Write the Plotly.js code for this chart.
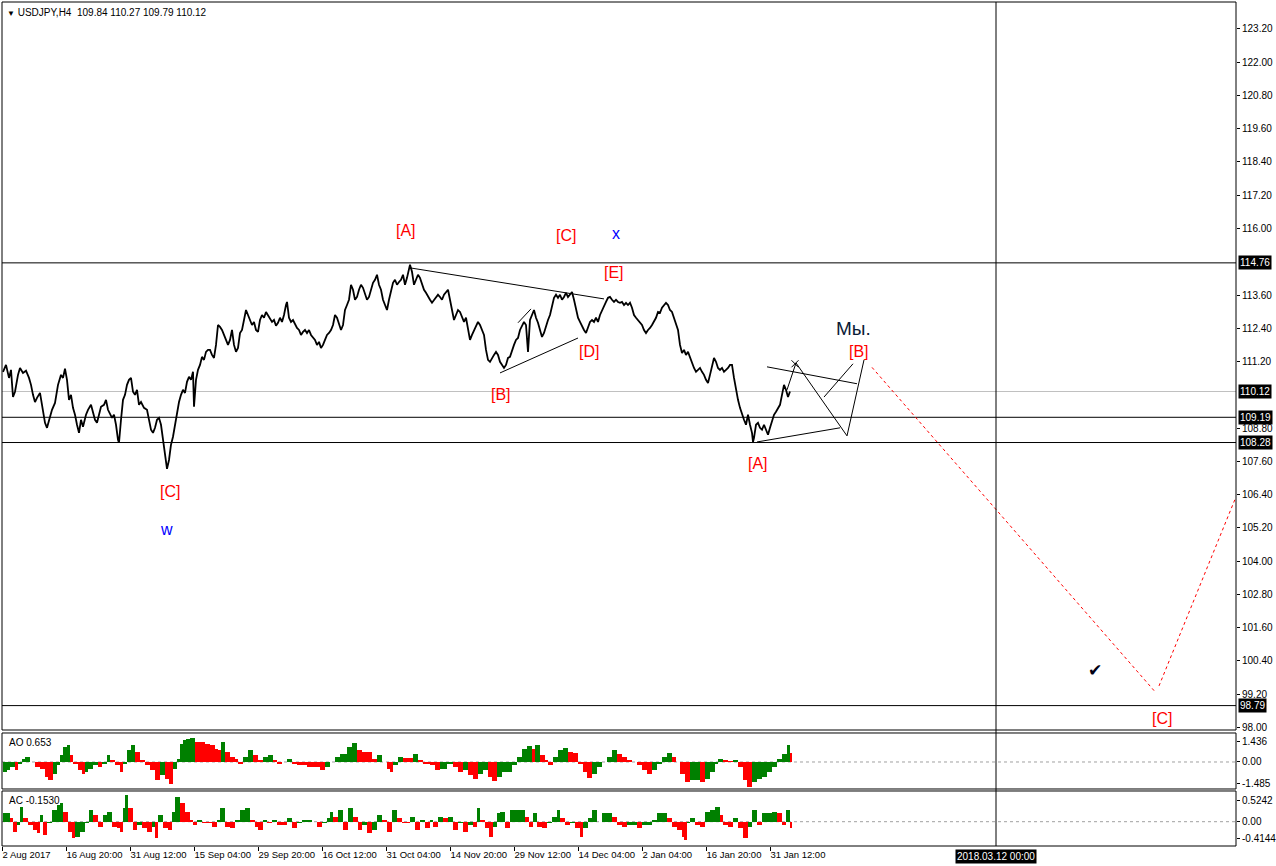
<!DOCTYPE html>
<html><head><meta charset="utf-8">
<script src="https://cdn.plot.ly/plotly-3.0.1.min.js"></script>
<style>html,body{margin:0;padding:0;background:#fff;overflow:hidden}#chart{width:1276px;height:866px}</style>
</head><body><div id="chart"></div>
<script>
// ---------- data ----------
const symbolTitle = "USDJPY,H4\u00a0\u00a0109.84 110.27 109.79 110.12";
// [bar index, close]
const priceSeries = [[3,110.83],[6,111.08],[9,110.61],[11,110.90],[13,109.92],[15,110.11],[18,110.72],[20,110.97],[23,110.79],[26,110.87],[29,110.61],[31,110.36],[33,110.00],[35,109.74],[37,109.89],[40,110.07],[42,109.64],[45,108.99],[47,108.81],[49,109.10],[52,109.46],[55,109.71],[58,110.36],[61,110.72],[63,110.61],[65,110.94],[67,110.54],[69,109.82],[71,110.00],[73,109.53],[75,109.28],[77,108.92],[79,108.63],[81,109.10],[83,108.85],[86,109.28],[88,109.46],[91,109.64],[93,109.39],[95,109.10],[97,108.99],[99,109.28],[101,109.57],[104,109.64],[106,109.82],[108,109.46],[110,109.28],[112,109.17],[114,109.28],[116,108.92],[118,108.38],[119,108.27],[121,109.10],[123,109.82],[125,110.00],[127,110.36],[129,110.54],[131,110.61],[133,110.11],[135,110.00],[137,110.18],[139,109.64],[141,109.74],[144,109.53],[147,109.46],[149,109.10],[151,108.74],[153,108.63],[155,108.81],[157,109.10],[159,109.17],[161,108.92],[163,108.38],[165,107.83],[166,107.40],[167,107.33],[169,107.65],[171,108.20],[173,108.49],[175,108.92],[177,109.46],[179,109.74],[181,110.00],[183,110.18],[185,110.07],[187,110.47],[189,110.65],[191,110.54],[193,110.83],[194,109.57],[196,110.54],[198,110.90],[200,111.08],
[202,111.37],[204,111.26],[206,111.55],[208,111.62],[210,111.62],[212,111.44],[214,111.33],[216,111.80],[218,112.52],[220,112.45],[222,112.34],[224,112.16],[226,111.98],[228,111.80],[230,111.98],[232,112.34],[234,111.80],[236,111.55],[238,111.69],[240,112.23],[242,112.34],[244,112.70],[246,113.06],[248,112.88],[250,112.70],[252,112.52],[254,112.63],[256,112.34],[258,112.27],[260,112.70],[262,112.88],[264,112.78],[266,112.99],[268,112.88],[270,112.78],[272,112.63],[274,112.70],[276,112.49],[278,112.60],[280,112.78],[282,112.63],[284,112.88],[286,113.24],[287,113.35],
[289,112.78],[291,112.63],[293,112.70],[295,112.52],[297,112.41],[299,112.34],[301,112.16],[303,112.27],[305,112.34],[307,112.23],[309,112.34],[311,112.16],[313,112.05],[315,111.98],[317,111.80],[319,111.91],[321,111.69],[323,111.80],[325,111.98],[327,112.16],[329,112.23],[331,112.34],[333,112.52],[335,112.88],[337,112.78],[339,112.52],[341,112.34],[343,112.52],[345,113.06],[347,113.24],[349,113.43],[351,113.97],[353,113.79],[355,113.43],[357,113.53],[359,113.79],[361,113.97],[363,113.86],[365,113.61],[367,113.43],[369,113.53],[371,113.79],[373,114.04],[375,114.15],[377,114.33],[379,113.97],[381,113.79],[383,113.43],[385,113.24],[387,113.06],[389,113.43],[391,113.79],[393,114.04],[395,114.15],[397,113.97],[399,114.07],[401,114.15],[403,114.33],[405,113.97],[407,114.22],[409,114.51],[410,114.69],
[412,114.44],[414,113.97],[416,114.15],[418,114.33],[420,114.22],[422,113.97],[424,113.79],[426,113.68],[428,113.53],[430,113.43],[432,113.32],[434,113.43],[436,113.50],[438,113.61],[440,113.53],[442,113.43],[444,113.61],[446,113.71],[448,113.79],[450,113.43],[452,112.99],[454,112.70],[456,112.88],[458,113.06],[460,112.99],[462,112.78],[464,112.63],[466,112.78],[468,112.34],[470,111.98],[472,112.16],[474,112.34],[476,112.52],[478,112.63],[480,112.52],[482,112.34],[484,112.16],[486,111.62],[488,111.26],[490,111.19],[492,111.33],[494,111.44],[496,111.55],[498,111.44],[500,111.19],[502,111.08],[504,110.97],[506,111.08],[508,111.33],[510,111.37],[512,111.62],[514,111.80],[516,111.98],[518,112.05],[520,112.34],[522,112.52],[524,112.63],[526,112.52],[528,111.55],[530,112.70],[532,112.88],[534,113.06],[536,112.78],[538,112.60],[540,112.34],[542,112.09],[544,112.23],[546,112.52],[548,112.70],[550,112.88],[552,113.24],[554,113.50],[556,113.61],[558,113.50],[560,113.61],[562,113.43],[564,113.53],[566,113.68],[568,113.53],[570,113.61],[572,113.71],[574,113.43],[576,113.06],[578,112.78],[580,112.63],[582,112.45],[584,112.34],[586,112.23],[588,112.41],[590,112.63],[592,112.70],[594,112.63],[596,112.78],[598,112.63],[600,112.88],[602,113.06],[604,113.24],[606,113.35],[608,113.50],[610,113.53],[612,113.43],[614,113.35],[616,113.43],[618,113.35],[620,113.32],[622,113.35],[624,113.24],[626,113.32],[628,113.24],[630,113.32],[632,113.14],[634,112.88],[636,112.78],[638,112.70],[640,112.60],[642,112.52],[644,112.34],[646,112.23],[648,112.34],[650,112.41],[652,112.52],[654,112.63],[656,112.78],[658,112.99],[660,112.96],[662,113.14],[664,113.24],[666,113.32],[668,113.24],[670,113.06],[672,112.99],[674,112.78],[676,112.52],[678,112.34],[680,111.80],[682,111.51],[684,111.62],[686,111.44],[688,111.55],[690,111.33],[692,111.19],[694,110.97],[696,110.83],[698,110.90],[700,110.97],[702,110.83],[704,110.72],[706,110.54],[708,110.43],[710,110.72],[712,111.08],[714,111.33],[716,111.19],[718,110.97],[720,110.90],[722,110.97],[724,110.83],[726,110.90],[728,110.97],[730,111.08],[732,111.08],[734,110.61],[736,110.18],[738,109.82],[740,109.53],[742,109.28],[744,109.10],[746,108.92],[748,109.28],[750,108.92],[752,108.63],[753,108.30],
[754,108.45],[756,108.92],[758,108.99],[760,108.81],[762,108.74],[764,108.92],[766,108.74],[768,108.56],[770,108.81],[772,109.10],[774,109.28],[776,109.39],[778,109.53],[780,109.64],[782,110.00],[784,110.36],[786,110.18],[788,109.92],[790,110.12]];

// [bar index, AO value]
const aoSeries = [[3,-0.68],[7,-0.57],[10,-0.34],[15,-0.57],[18,-0.11],[22,0.23],[25,0.34],[30,0.0],[35,-0.34],[40,-0.45],[45,-1.02],[48,-1.25],[53,-0.80],[57,-0.23],[60,0.45],[63,1.02],[67,1.14],[70,0.45],[73,-0.11],[78,-0.57],[82,-0.80],[85,-0.68],[88,-0.45],[93,-0.23],[98,-0.34],[102,-0.11],[107,0.45],[110,0.11],[115,-0.23],[120,-0.68],[123,-0.11],[127,0.80],[131,1.14],[135,0.68],[140,0.11],[145,-0.23],[150,-0.57],[155,-1.25],[160,-0.91],[165,-1.14],[169,-1.48],[173,-0.45],[177,0.23],[180,1.25],[183,1.48],[186,1.55],[190,1.64],[195,1.36],[200,1.36],[205,1.25],[210,1.14],[215,0.91],[218,0.80],[221,1.36],[225,0.68],[230,0.34],[235,0.23],[238,-0.11],[243,0.34],[248,0.80],[253,0.45],[258,0.11],[263,0.34],[268,0.45],[273,0.11],[277,-0.11],[282,0.0],[287,0.23],[292,-0.11],[297,-0.23],[302,-0.23],[307,-0.34],[313,-0.34],[320,-0.57],[325,-0.34],[330,0.0],[335,0.34],[340,0.57],[347,1.02],[352,1.32],[357,0.80],[362,0.68],[367,0.68],[372,0.23],[377,0.45],[382,0.0],[387,-0.45],[390,-0.68],[393,-0.23],[398,0.34],[403,0.27],[408,0.27],[413,0.57],[418,0.11],[423,-0.11],[430,-0.23],[435,-0.57],[440,-0.45],[447,-0.11],[453,-0.34],[458,-0.68],[463,-0.57],[468,-0.91],[473,-1.14],[478,-0.80],[483,-0.57],[488,-1.02],[492,-1.32],[497,-1.02],[502,-0.68],[507,-0.68],[512,-0.23],[517,0.34],[522,0.91],[527,1.09],[532,0.91],[535,1.18],[540,0.45],[545,0.11],[548,-0.18],[553,0.34],[558,0.80],[563,0.95],[568,0.68],[573,0.64],[578,-0.11],[583,-0.68],[587,-1.09],[592,-0.80],[597,-0.34],[602,0.0],[607,0.34],[612,0.80],[617,0.57],[622,0.34],[627,0.11],[632,0.0],[637,-0.23],[642,-0.57],[647,-0.80],[652,-0.57],[657,-0.11],[662,0.34],[667,0.64],[672,0.34],[676,0.0],[680,-0.80],[685,-1.36],[690,-1.25],[695,-1.25],[700,-1.36],[705,-1.14],[710,-0.68],[715,-0.11],[718,0.23],[723,0.11],[728,0.05],[733,0.11],[738,-0.34],[743,-1.25],[747,-1.70],[752,-1.36],[757,-1.14],[762,-1.02],[767,-0.68],[772,-0.34],[777,0.23],[782,0.57],[787,1.14],[790,0.65]];

// [bar index, AC value]
const acSeries = [[3,0.20],[7,0.20],[10,0.08],[13,-0.24],[17,-0.08],[20,0.37],[23,0.08],[28,-0.08],[33,-0.20],[37,-0.28],[40,0.16],[43,-0.33],[47,-0.04],[52,0.28],[57,0.41],[60,0.45],[63,0.24],[68,-0.24],[72,-0.41],[75,-0.37],[80,-0.24],[85,-0.04],[89,0.28],[93,0.16],[98,-0.12],[103,0.16],[107,0.24],[112,-0.12],[117,-0.16],[120,-0.24],[123,0.33],[125,0.65],[128,0.33],[133,-0.20],[137,-0.08],[142,-0.16],[147,-0.24],[152,-0.12],[155,-0.41],[158,0.16],[163,-0.16],[168,-0.20],[172,0.24],[175,0.61],[180,0.45],[185,0.24],[190,0.04],[193,-0.08],[197,0.04],[202,-0.04],[207,-0.04],[212,-0.12],[217,0.04],[220,0.33],[225,-0.12],[230,-0.16],[235,0.04],[240,0.28],[245,0.33],[250,0.04],[255,-0.12],[258,-0.20],[263,0.04],[267,-0.04],[272,0.04],[277,-0.08],[282,-0.08],[287,0.08],[292,-0.16],[297,-0.04],[302,0.04],[307,0.04],[312,0.0],[317,-0.12],[322,-0.04],[327,0.08],[330,0.24],[333,0.12],[338,0.28],[343,-0.20],[348,0.33],[353,0.12],[358,-0.20],[362,-0.08],[367,-0.28],[372,-0.20],[377,0.16],[382,0.04],[387,-0.24],[392,0.28],[397,0.08],[402,-0.04],[407,-0.04],[410,0.12],[415,-0.20],[420,0.04],[425,-0.16],[430,0.04],[433,-0.12],[438,0.12],[443,0.08],[448,0.12],[453,-0.20],[458,-0.04],[463,-0.24],[468,-0.08],[473,-0.12],[477,0.33],[480,0.04],[485,-0.16],[489,-0.37],[493,-0.12],[497,0.20],[500,0.24],[505,-0.16],[510,0.28],[515,0.28],[520,0.28],[525,0.12],[529,-0.12],[533,0.20],[537,-0.12],[542,-0.16],[547,-0.04],[552,0.12],[557,0.28],[560,0.08],[565,-0.08],[570,-0.04],[575,-0.16],[580,-0.37],[583,-0.16],[588,0.08],[592,0.28],[597,0.0],[602,0.20],[607,0.20],[612,0.12],[617,-0.08],[622,-0.12],[627,-0.08],[632,-0.08],[637,-0.16],[642,-0.08],[647,-0.08],[652,0.04],[657,0.20],[662,0.20],[667,0.08],[672,-0.12],[677,-0.20],[682,-0.37],[684,-0.45],[687,-0.04],[690,0.08],[695,-0.08],[700,-0.12],[705,0.24],[710,0.28],[715,0.37],[720,0.16],[723,-0.08],[728,-0.12],[733,0.08],[738,-0.16],[743,-0.41],[748,-0.12],[752,0.28],[757,-0.08],[762,0.20],[767,0.20],[772,0.24],[777,0.20],[782,-0.08],[786,0.28],[790,-0.15]];

const timeTickBars = [2,66,130,194,258,322,386,450,514,578,642,706,770];
const timeTickLabels = ["2 Aug 2017","16 Aug 20:00","31 Aug 12:00","15 Sep 04:00","29 Sep 20:00","16 Oct 12:00","31 Oct 04:00","14 Nov 20:00","29 Nov 12:00","14 Dec 04:00","2 Jan 04:00","16 Jan 20:00","31 Jan 12:00"];
const futureBar = 996;
const futureLabel = "2018.03.12 00:00";

const priceTicks = [123.2,122.0,120.8,119.6,118.4,117.2,116.0,113.6,112.4,111.2,108.8,107.6,106.4,105.2,104.0,102.8,101.6,100.4,99.2,98.0];
const levelLines = [114.76,109.19,108.28,98.79];
const bidPrice = 110.12;

const aoLabel = "AO 0.653";
const aoTicks = [1.436,0,-1.485];
const aoTickText = ["1.436","0.00","-1.485"];
const acLabel = "AC -0.1530";
const acTicks = [0.5242,0,-0.4144];
const acTickText = ["0.5242","0.00","-0.4144"];

// wave count drawings (bar, price)
const waveLines = [
  [[410,114.58],[604,113.46]],
  [[500,110.79],[578,112.05]],
  [[518,112.60],[531,113.10]],
  [[767,111.01],[857,110.40]],
  [[757,108.30],[840,108.81]],
  [[787,110.18],[796,111.15],[847,108.52],[864,111.26]],
  [[824,109.92],[853,111.12]]
];
const projectionLines = [
  [[872,110.99],[1156,99.25]],
  [[1159,99.50],[1236,106.32]]
];
const crossMark = [[795,111.12]];

const waveText  = ["[A]","[B]","[C]","[D]","[E]","x","[C]","w","[A]","[B]","[C]"];
const waveBar   = [406,501,566,589,614,616,170,166,758,859,1162];
const wavePrice = [115.91,110.00,115.73,111.55,114.40,115.81,106.50,105.16,107.51,111.58,98.34];
const waveBlue  = ["x","w"];
const noteText = "Мы."; const noteBar = 853; const notePrice = 112.41;
const checkText = "\u2714"; const checkBar = 1095; const checkPrice = 100.08;

// ---------- build ----------
const FONT = '"Liberation Sans", Arial, sans-serif';
const RED = '#ff0000', GREEN = '#008000', BLUE = '#0000ff';

function segXY(segs){const x=[],y=[];segs.forEach(s=>{s.forEach(p=>{x.push(p[0]);y.push(p[1]);});x.push(null);y.push(null);});return {x,y};}
function histColors(vals){let c=GREEN;return vals.map((v,i)=>{if(i>0){if(v>vals[i-1])c=GREEN;else if(v<vals[i-1])c=RED;}return c;});}
function histWidths(xs){return xs.map((x,i)=> i<xs.length-1 ? xs[i+1]-x : 2);}

const aoX = aoSeries.map(d=>d[0]), aoY = aoSeries.map(d=>d[1]);
const acX = acSeries.map(d=>d[0]), acY = acSeries.map(d=>d[1]);
const wl = segXY(waveLines), pl = segXY(projectionLines);

const traces = [
  {type:'scatter',mode:'lines',x:priceSeries.map(d=>d[0]),y:priceSeries.map(d=>d[1]),line:{color:'#000',width:1.8},xaxis:'x',yaxis:'y',hoverinfo:'skip'},
  {type:'scatter',mode:'lines',x:wl.x,y:wl.y,line:{color:'#000',width:1},connectgaps:false,xaxis:'x',yaxis:'y',hoverinfo:'skip'},
  {type:'scatter',mode:'lines',x:pl.x,y:pl.y,line:{color:RED,width:1,dash:'dot'},connectgaps:false,xaxis:'x',yaxis:'y',hoverinfo:'skip'},
  {type:'scatter',mode:'markers',x:crossMark.map(d=>d[0]),y:crossMark.map(d=>d[1]),marker:{symbol:'x-thin',size:7,line:{color:'#000',width:1}},xaxis:'x',yaxis:'y',hoverinfo:'skip'},
  {type:'bar',x:aoX,y:aoY,width:histWidths(aoX),offset:0,marker:{color:histColors(aoY),line:{width:0}},xaxis:'x',yaxis:'y2',hoverinfo:'skip'},
  {type:'bar',x:acX,y:acY,width:histWidths(acX),offset:0,marker:{color:histColors(acY),line:{width:0}},xaxis:'x',yaxis:'y3',hoverinfo:'skip'}
];

const shapes = [];
['y','y2','y3'].forEach(a=>shapes.push({type:'rect',xref:'x domain',yref:a+' domain',x0:0,x1:1,y0:0,y1:1,line:{color:'#000',width:1},layer:'above'}));
levelLines.forEach(v=>shapes.push({type:'line',xref:'x domain',yref:'y',x0:0,x1:1,y0:v,y1:v,line:{color:'#000',width:1},layer:'below'}));
shapes.push({type:'line',xref:'x domain',yref:'y',x0:0,x1:1,y0:bidPrice,y1:bidPrice,line:{color:'#c0c0c0',width:1},layer:'below'});
shapes.push({type:'line',xref:'x domain',yref:'y2',x0:0,x1:1,y0:0,y1:0,line:{color:'#a0a0a0',width:1,dash:'dot'},layer:'below'});
shapes.push({type:'line',xref:'x domain',yref:'y3',x0:0,x1:1,y0:0,y1:0,line:{color:'#a0a0a0',width:1,dash:'dot'},layer:'below'});
shapes.push({type:'line',xref:'x',yref:'paper',x0:futureBar,x1:futureBar,y0:0,y1:1,line:{color:'#000',width:1}});

const annotations = [];
annotations.push({xref:'x domain',yref:'y domain',x:0,y:1,xanchor:'left',yanchor:'top',xshift:3,yshift:-3,showarrow:false,
  text:'<span style="font-size:8px">\u25BC</span>\u00a0'+symbolTitle,font:{family:FONT,size:10,color:'#000'}});
annotations.push({xref:'x domain',yref:'y2 domain',x:0,y:1,xanchor:'left',yanchor:'top',xshift:5,yshift:-2,showarrow:false,text:aoLabel,font:{family:FONT,size:10,color:'#000'}});
annotations.push({xref:'x domain',yref:'y3 domain',x:0,y:1,xanchor:'left',yanchor:'top',xshift:5,yshift:-2,showarrow:false,text:acLabel,font:{family:FONT,size:10,color:'#000'}});
levelLines.concat([bidPrice]).forEach(v=>annotations.push({xref:'x domain',yref:'y',x:1,y:v,xanchor:'left',yanchor:'middle',xshift:2,showarrow:false,
  text:v.toFixed(2),bgcolor:'#000',borderpad:1,font:{family:FONT,size:10,color:'#fff'}}));
annotations.push({xref:'x',yref:'paper',x:futureBar,y:0,xanchor:'center',yanchor:'top',yshift:-3,showarrow:false,text:futureLabel,bgcolor:'#000',borderpad:1,font:{family:FONT,size:10,color:'#fff'}});
waveText.forEach((t,i)=>annotations.push({xref:'x',yref:'y',x:waveBar[i],y:wavePrice[i],showarrow:false,text:t,
  font:{family:FONT,size:16,color:waveBlue.includes(t)?BLUE:RED}}));
annotations.push({xref:'x',yref:'y',x:noteBar,y:notePrice,showarrow:false,text:noteText,font:{family:FONT,size:19,color:'#0a1a36'}});
annotations.push({xref:'x',yref:'y',x:checkBar,y:checkPrice,showarrow:false,text:checkText,font:{family:'"DejaVu Sans", sans-serif',size:17,color:'#000014'}});

const yCommon = {side:'right',anchor:'x',ticks:'outside',ticklen:3,tickcolor:'#000',showgrid:false,zeroline:false,showline:false,fixedrange:true,tickfont:{family:FONT,size:10,color:'#000'}};
const layout = {
  width:1276,height:866,margin:{l:2,r:40,t:2,b:20,pad:0},
  paper_bgcolor:'#fff',plot_bgcolor:'#fff',showlegend:false,bargap:0,barmode:'overlay',
  font:{family:FONT,size:10,color:'#000'},
  xaxis:{range:[2,1236],anchor:'y3',tickvals:timeTickBars,ticktext:timeTickLabels,ticks:'outside',ticklen:4,tickcolor:'#000',tickangle:0,automargin:false,
    ticklabelposition:'outside right',showgrid:false,zeroline:false,showline:false,fixedrange:true,tickfont:{family:FONT,size:9.5,color:'#000'}},
  yaxis:Object.assign({},yCommon,{domain:[0.13744,1],range:[97.91,124.17],tickvals:priceTicks,ticktext:priceTicks.map(v=>v.toFixed(2))}),
  yaxis2:Object.assign({},yCommon,{domain:[0.06754,0.13389],range:[-1.849,1.986],tickvals:aoTicks,ticktext:aoTickText}),
  yaxis3:Object.assign({},yCommon,{domain:[0,0.06517],range:[-0.593,0.749],tickvals:acTicks,ticktext:acTickText}),
  shapes:shapes,annotations:annotations
};
Plotly.newPlot('chart',traces,layout,{staticPlot:true,displayModeBar:false});
</script></body></html>
